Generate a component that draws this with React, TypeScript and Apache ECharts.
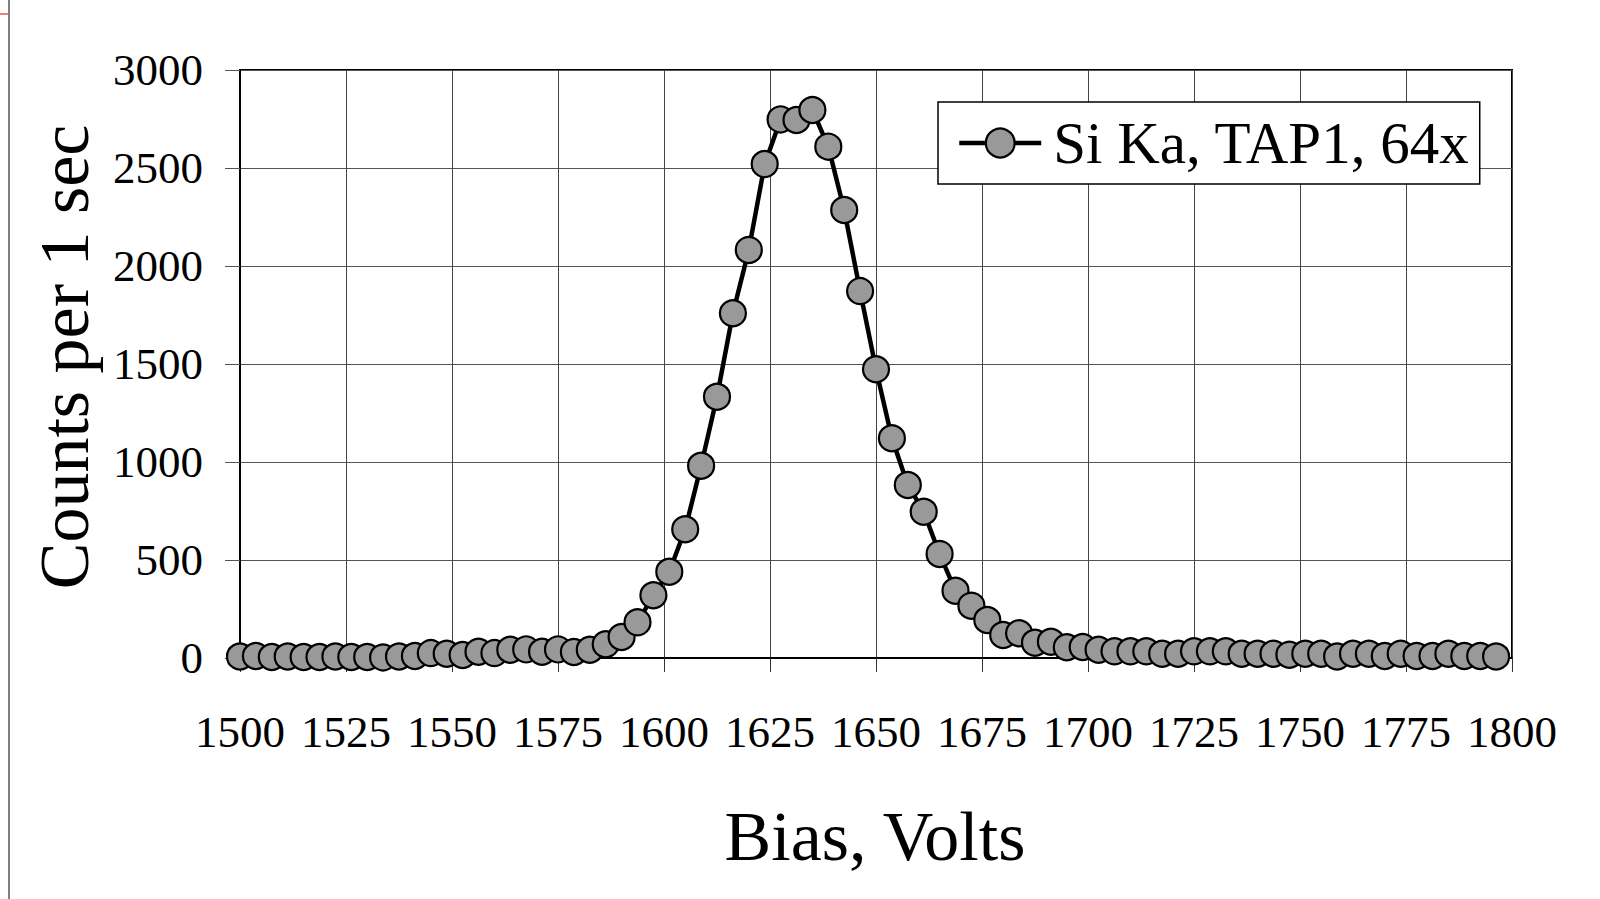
import React, { useEffect, useRef } from "react";
import * as echarts from "echarts";

// Proportional counter bias scan: Si Ka on TAP1, gain 64x
const biasVolts = [
  1500, 1503.75, 1507.5, 1511.25, 1515, 1518.75, 1522.5, 1526.25, 1530, 1533.75,
  1537.5, 1541.25, 1545, 1548.75, 1552.5, 1556.25, 1560, 1563.75, 1567.5, 1571.25,
  1575, 1578.75, 1582.5, 1586.25, 1590, 1593.75, 1597.5, 1601.25, 1605, 1608.75,
  1612.5, 1616.25, 1620, 1623.75, 1627.5, 1631.25, 1635, 1638.75, 1642.5, 1646.25,
  1650, 1653.75, 1657.5, 1661.25, 1665, 1668.75, 1672.5, 1676.25, 1680, 1683.75,
  1687.5, 1691.25, 1695, 1698.75, 1702.5, 1706.25, 1710, 1713.75, 1717.5, 1721.25,
  1725, 1728.75, 1732.5, 1736.25, 1740, 1743.75, 1747.5, 1751.25, 1755, 1758.75,
  1762.5, 1766.25, 1770, 1773.75, 1777.5, 1781.25, 1785, 1788.75, 1792.5, 1796.25,
];

const countsPerSec = [
  8, 10, 5, 8, 5, 5, 8, 5, 5, 3,
  8, 10, 25, 22, 15, 32, 25, 42, 44, 32,
  44, 31, 42, 70, 107, 182, 320, 440, 657, 981,
  1333, 1759, 2082, 2520, 2748, 2745, 2796, 2609, 2286, 1872,
  1473, 1121, 883, 746, 531, 343, 267, 194, 117, 126,
  78, 83, 55, 56, 42, 34, 34, 34, 22, 22,
  34, 34, 34, 22, 22, 22, 17, 22, 22, 8,
  22, 22, 10, 22, 10, 10, 22, 10, 10, 8,
];

const seriesName = "Si Ka, TAP1, 64x";
const xTitle = "Bias, Volts";
const yTitle = "Counts per 1 sec";
const xRange = { min: 1500, max: 1800, step: 25 };
const yRange = { min: 0, max: 3000, step: 500 };

const SERIF = "'Liberation Serif', 'Times New Roman', Times, serif";
const plain = (v: number) => String(v);

export default function App() {
  const ref = useRef<HTMLDivElement>(null);

  useEffect(() => {
    if (!ref.current) return;
    const chart = echarts.init(ref.current, undefined, { renderer: "svg" });
    const points = biasVolts.map((v, i) => [v, countsPerSec[i]]);

    chart.setOption({
      animation: false,
      backgroundColor: "#ffffff",
      textStyle: { fontFamily: SERIF, color: "#000" },
      grid: {
        left: 240,
        top: 70,
        right: 88,
        bottom: 241,
        show: true,
        borderColor: "#000",
        borderWidth: 2,
        backgroundColor: "transparent",
      },
      legend: {
        show: true,
        left: 938,
        top: 102,
        orient: "horizontal",
        backgroundColor: "#fff",
        borderColor: "#000",
        borderWidth: 1.5,
        borderRadius: 0,
        padding: [10, 10, 10, 19],
        itemWidth: 82,
        itemHeight: 36,
        lineStyle: { width: 4.5, color: "#000" },
        itemStyle: { color: "#999999", borderColor: "#000", borderWidth: 2.2 },
        textStyle: {
          fontFamily: SERIF,
          fontSize: 59,
          color: "#000",
          lineHeight: 62,
          padding: [0, 0, 0, 7],
        },
        data: [seriesName],
      },
      xAxis: {
        type: "value",
        min: xRange.min,
        max: xRange.max,
        interval: xRange.step,
        axisLine: { show: true, lineStyle: { color: "#000", width: 2 } },
        axisTick: { show: true, inside: false, length: 14, lineStyle: { color: "#333", width: 1 } },
        axisLabel: {
          fontFamily: SERIF,
          fontSize: 45,
          color: "#000",
          margin: 51,
          showMinLabel: true,
          showMaxLabel: true,
          formatter: plain,
        },
        splitLine: { show: true, lineStyle: { color: "#444", width: 1 } },
      },
      yAxis: {
        type: "value",
        min: yRange.min,
        max: yRange.max,
        interval: yRange.step,
        axisLine: { show: true, lineStyle: { color: "#000", width: 2 } },
        axisTick: { show: true, inside: false, length: 15, lineStyle: { color: "#555", width: 1 } },
        axisLabel: {
          fontFamily: SERIF,
          fontSize: 45,
          color: "#000",
          margin: 37,
          formatter: plain,
        },
        splitLine: { show: true, lineStyle: { color: "#555", width: 1 } },
      },
      series: [
        {
          name: seriesName,
          type: "line",
          data: points,
          clip: false,
          symbol: "circle",
          symbolSize: 26,
          lineStyle: { color: "#000", width: 4.5 },
          itemStyle: { color: "#999999", borderColor: "#000", borderWidth: 2.2 },
          emphasis: { disabled: true },
          z: 3,
        },
      ],
      graphic: [
        {
          type: "text",
          x: 64,
          y: 357,
          rotation: Math.PI / 2,
          style: {
            text: yTitle,
            fontFamily: SERIF,
            fontSize: 70,
            fill: "#000",
            textAlign: "center",
            textVerticalAlign: "middle",
          },
        },
        {
          type: "text",
          x: 875,
          y: 836,
          style: {
            text: xTitle,
            fontFamily: SERIF,
            fontSize: 70,
            fill: "#000",
            textAlign: "center",
            textVerticalAlign: "middle",
          },
        },
        {
          type: "line",
          shape: { x1: 9, y1: 0, x2: 9, y2: 899 },
          style: { stroke: "#000", lineWidth: 1 },
        },
        {
          type: "line",
          shape: { x1: 0, y1: 14, x2: 8, y2: 14 },
          style: { stroke: "#e00000", lineWidth: 1 },
        },
      ],
    });

    return () => chart.dispose();
  }, []);

  return (
    <div
      ref={ref}
      style={{ position: "fixed", left: 0, top: 0, width: "1600px", height: "899px" }}
    />
  );
}
